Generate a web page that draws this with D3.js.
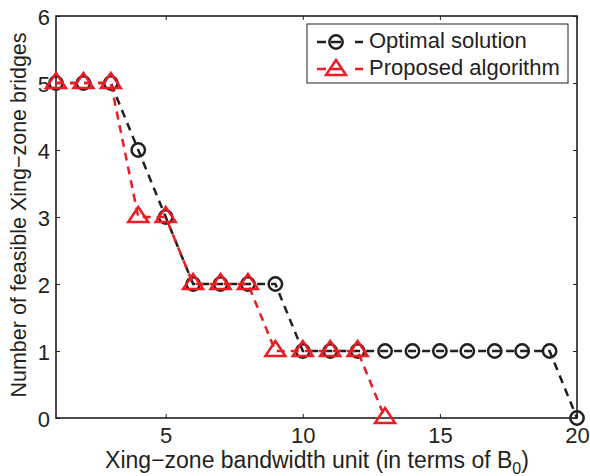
<!DOCTYPE html>
<html>
<head>
<meta charset="utf-8">
<script src="https://cdn.jsdelivr.net/npm/d3@7"></script>
<style>
  body { margin: 0; background: #fff; }
  text { font-family: "Liberation Sans", Arial, sans-serif; fill: #231f20; }
</style>
</head>
<body>
<script>
// chart values
var units = [1,2,3,4,5,6,7,8,9,10,11,12,13,14,15,16,17,18,19,20];
var optimal = [5,5,5,4,3,2,2,2,2,1,1,1,1,1,1,1,1,1,1,0];
var proposedUnits = [1,2,3,4,5,6,7,8,9,10,11,12,13];
var proposed = [5,5,5,3,3,2,2,2,1,1,1,1,0];
var xTicks = [5,10,15,20];
var yTicks = [0,1,2,3,4,5,6];
var seriesNames = ['Optimal solution', 'Proposed algorithm'];

const w = 590, h = 476;
const padL = 56, padR = 577, padT = 16, padB = 418;
const ink = '#231f20', red = '#ed1c24';

var svg = d3.select('body').append('svg')
  .attr('width', w)
  .attr('height', h)

var x = d3.scaleLinear().domain([1, 20]).range([padL, padR])
var y = d3.scaleLinear().domain([0, 6]).range([padB, padT])

// axes, ticks pointing inward
svg.append('g')
  .attr('transform', 'translate(0,' + padB + ')')
  .call(d3.axisBottom(x).tickValues(xTicks).tickSizeInner(-4).tickSizeOuter(0).tickFormat(d3.format('d')))
  .call(g => g.select('.domain').remove())
  .call(g => g.selectAll('text').attr('font-size', 22).attr('y', 25).attr('dy', 0))

svg.append('g')
  .attr('transform', 'translate(' + padL + ',0)')
  .call(d3.axisLeft(y).tickValues(yTicks).tickSizeInner(-4).tickSizeOuter(0).tickPadding(6).tickFormat(d3.format('d')))
  .call(g => g.select('.domain').remove())
  .call(g => g.selectAll('text').attr('font-size', 22).attr('dy', '0.38em'))

svg.append('g')
  .attr('transform', 'translate(0,' + padT + ')')
  .call(d3.axisTop(x).tickValues(xTicks).tickSizeInner(-4).tickSizeOuter(0).tickFormat(''))
  .call(g => g.select('.domain').remove())

svg.append('g')
  .attr('transform', 'translate(' + padR + ',0)')
  .call(d3.axisRight(y).tickValues(yTicks).tickSizeInner(-4).tickSizeOuter(0).tickFormat(''))
  .call(g => g.select('.domain').remove())

svg.selectAll('.tick line').attr('stroke', ink).attr('stroke-width', 1)

svg.append('rect')
  .attr('x', padL).attr('y', padT)
  .attr('width', padR - padL).attr('height', padB - padT)
  .attr('fill', 'none').attr('stroke', ink).attr('stroke-width', 1.6)

var line = d3.line().x(d => x(d[0])).y(d => y(d[1]))

var optData = units.map((u, i) => [u, optimal[i]])
var propData = proposedUnits.map((u, i) => [u, proposed[i]])

function triPath(cx, cy) {
  return 'M' + cx + ',' + (cy - 10) + 'L' + (cx + 10) + ',' + (cy + 5) +
    'L' + (cx - 10) + ',' + (cy + 5) + 'Z'
}

// optimal solution
svg.append('path')
  .datum(optData)
  .attr('d', line)
  .attr('fill', 'none')
  .attr('stroke', ink)
  .attr('stroke-width', 2.5)
  .attr('stroke-dasharray', '8,6')

svg.selectAll('.opt')
  .data(optData)
  .enter()
  .append('circle')
  .attr('class', 'opt')
  .attr('cx', d => x(d[0]))
  .attr('cy', d => y(d[1]))
  .attr('r', 6.7)
  .attr('fill', 'none')
  .attr('stroke', ink)
  .attr('stroke-width', 2.5)

// proposed algorithm
svg.append('path')
  .datum(propData)
  .attr('d', line)
  .attr('fill', 'none')
  .attr('stroke', red)
  .attr('stroke-width', 2.5)
  .attr('stroke-dasharray', '8,6')

svg.selectAll('.prop')
  .data(propData)
  .enter()
  .append('path')
  .attr('class', 'prop')
  .attr('d', d => triPath(x(d[0]), y(d[1])))
  .attr('fill', 'none')
  .attr('stroke', red)
  .attr('stroke-width', 2.5)

// legend
var lg = svg.append('g')
lg.append('rect')
  .attr('x', 307).attr('y', 24).attr('width', 261).attr('height', 59)
  .attr('fill', '#fff').attr('stroke', ink).attr('stroke-width', 1)

var legendColors = [ink, red]
seriesNames.forEach(function(name, i) {
  var ly = 42 + i * 27
  var c = legendColors[i]
  lg.append('line')
    .attr('x1', 317).attr('x2', 326).attr('y1', ly).attr('y2', ly)
    .attr('stroke', c).attr('stroke-width', 2.5)
  lg.append('line')
    .attr('x1', 355).attr('x2', 363).attr('y1', ly).attr('y2', ly)
    .attr('stroke', c).attr('stroke-width', 2.5)
  if (i == 0) {
    lg.append('circle').attr('cx', 336).attr('cy', ly).attr('r', 6.7)
      .attr('fill', 'none').attr('stroke', c).attr('stroke-width', 2.5)
    lg.append('line').attr('x1', 331).attr('x2', 341).attr('y1', ly).attr('y2', ly)
      .attr('stroke', c).attr('stroke-width', 2.5)
  } else {
    lg.append('path').attr('d', triPath(336, ly + 1))
      .attr('fill', 'none').attr('stroke', c).attr('stroke-width', 2.5)
    lg.append('line').attr('x1', 331).attr('x2', 341).attr('y1', ly).attr('y2', ly)
      .attr('stroke', c).attr('stroke-width', 2.5)
  }
  lg.append('text')
    .attr('x', 369).attr('y', ly + 6)
    .attr('font-size', 22)
    .text(name)
})

// axis titles
svg.append('text')
  .attr('text-anchor', 'middle')
  .attr('transform', 'translate(26,215)rotate(-90)')
  .attr('font-size', 21.5)
  .text('Number of feasible Xing\u2212zone bridges')

var xt = svg.append('text')
  .attr('text-anchor', 'middle')
  .attr('x', 317)
  .attr('y', 468)
  .attr('font-size', 23)
xt.append('tspan').text('Xing\u2212zone bandwidth unit (in terms of B')
xt.append('tspan').attr('font-size', 16).attr('dy', 6).text('0')
xt.append('tspan').attr('dy', -6).text(')')
</script>
</body>
</html>
